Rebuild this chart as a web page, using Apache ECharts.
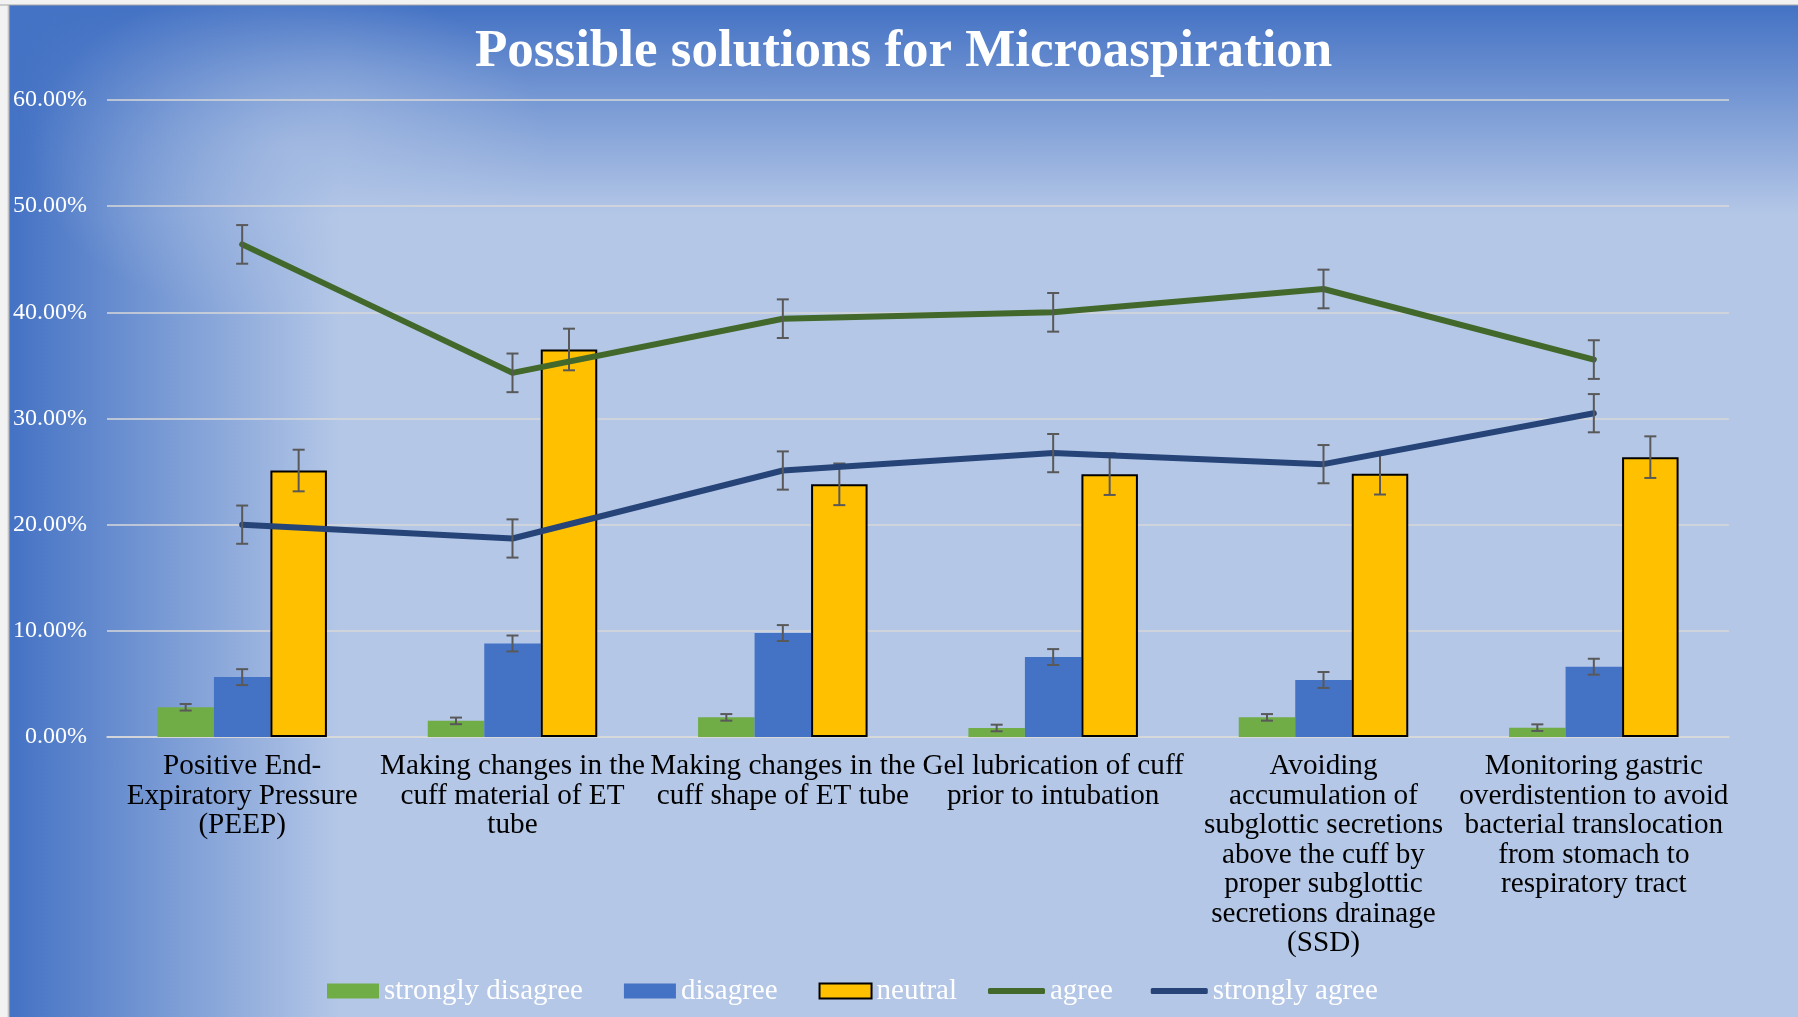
<!DOCTYPE html>
<html>
<head>
<meta charset="utf-8">
<script src="https://cdn.jsdelivr.net/npm/echarts@6/dist/echarts.min.js"></script>
<style>
html,body{margin:0;padding:0;width:1798px;height:1017px;overflow:hidden;background:#B4C7E7;}
#chart{position:absolute;left:0;top:0;width:1798px;height:1017px;
background:
 linear-gradient(to bottom, #f2f2f2 0px, #f2f2f2 4px, #a6a6a6 5px, rgba(0,0,0,0) 6px) top left/100% 6px no-repeat,
 linear-gradient(to right, #f2f2f2 0px, #f2f2f2 7px, #b4b4b4 9px, rgba(0,0,0,0) 10px) top left/10px 100% no-repeat,
 radial-gradient(ellipse 260px 170px at 290px 150px, rgba(180,199,231,0.6), rgba(180,199,231,0)),
 linear-gradient(to bottom, rgba(68,114,196,1) 6px, rgba(68,114,196,0) 215px),
 linear-gradient(to right, rgba(68,114,196,1) 10px, rgba(68,114,196,0) 340px),
 #B4C7E7;}
</style>
</head>
<body>
<div id="chart"></div>
<script>
// ---- data ----
const categories = [
  'Positive End-\nExpiratory Pressure\n(PEEP)',
  'Making changes in the\ncuff material of ET\ntube',
  'Making changes in the\ncuff shape of ET tube',
  'Gel lubrication of cuff\nprior to intubation',
  'Avoiding\naccumulation of\nsubglottic secretions\nabove the cuff by\nproper subglottic\nsecretions drainage\n(SSD)',
  'Monitoring gastric\noverdistention to avoid\nbacterial translocation\nfrom stomach to\nrespiratory tract'
];
const seriesNames = ['strongly disagree', 'disagree', 'neutral', 'agree', 'strongly agree'];
const stronglyDisagree = [0.0280, 0.0152, 0.0185, 0.0085, 0.0185, 0.0088];
const disagree         = [0.0564, 0.0881, 0.0979, 0.0753, 0.0537, 0.0662];
const neutral          = [0.2510, 0.3650, 0.2380, 0.2476, 0.2480, 0.2636];
const agree            = [0.4640, 0.3430, 0.3940, 0.4000, 0.4220, 0.3555];
const stronglyAgree    = [0.2000, 0.1870, 0.2510, 0.2674, 0.2570, 0.3050];
// error bar half-widths (standard error) per series
const errorMargins     = [0.0031, 0.0075, 0.0196, 0.0182, 0.0180];
const yTicks = { min: 0, max: 0.6, interval: 0.1 };

// ---- styling ----
const FONT = '"Liberation Serif", "Times New Roman", serif';
const BAR_FRAC = 0.209;
const colors = ['#70AD47', '#4472C4', '#FFC000', '#43682B', '#264478'];
const legendText = { color: '#FFFFFF', fontFamily: FONT, fontSize: 29, lineHeight: 30 };

function errorSeries(values, err, slot, z) {
  return {
    type: 'custom',
    z: z,
    silent: true,
    renderItem: function (params, api) {
      const idx = api.value(0);
      const lo = api.coord([idx, api.value(1)]);
      const hi = api.coord([idx, api.value(2)]);
      const band = api.size([1, 0])[0];
      const cx = lo[0] + slot * band * BAR_FRAC;
      const cap = 6;
      const style = { stroke: '#595959', lineWidth: 2, fill: null };
      return {
        type: 'group',
        children: [
          { type: 'line', shape: { x1: cx, y1: lo[1], x2: cx, y2: hi[1] }, style: style },
          { type: 'line', shape: { x1: cx - cap, y1: lo[1], x2: cx + cap, y2: lo[1] }, style: style },
          { type: 'line', shape: { x1: cx - cap, y1: hi[1], x2: cx + cap, y2: hi[1] }, style: style }
        ]
      };
    },
    encode: { x: 0, y: [1, 2] },
    data: values.map((v, i) => [i, v - err, v + err])
  };
}

const chart = echarts.init(document.getElementById('chart'), null, { renderer: 'canvas' });
const option = {
  backgroundColor: 'transparent',
  animation: false,
  title: {
    text: 'Possible solutions for Microaspiration',
    left: 470,
    top: 17,
    textStyle: { color: '#FFFFFF', fontFamily: FONT, fontWeight: 'bold', fontSize: 53, lineHeight: 60 }
  },
  legend: [
    {
      data: [
        { name: seriesNames[0], icon: 'rect' },
        { name: seriesNames[1], icon: 'rect' },
        { name: seriesNames[2], icon: 'rect' }
      ],
      left: 322, top: 971,
      itemWidth: 52, itemHeight: 15, itemGap: 41,
      textStyle: legendText
    },
    {
      data: [
        { name: seriesNames[3], icon: 'roundRect' },
        { name: seriesNames[4], icon: 'roundRect' }
      ],
      left: 983, top: 971,
      itemWidth: 57, itemHeight: 6, itemGap: 38,
      textStyle: legendText
    }
  ],
  grid: { left: 107, right: 69, top: 100, bottom: 280, containLabel: false },
  xAxis: {
    type: 'category',
    data: categories,
    axisLine: { show: true, lineStyle: { color: '#D9D9D9', width: 1.5 } },
    axisTick: { show: false },
    axisLabel: {
      color: '#000000', fontFamily: FONT, fontSize: 29.2, lineHeight: 29.5,
      margin: 15, interval: 0, align: 'center'
    }
  },
  yAxis: {
    type: 'value',
    min: yTicks.min, max: yTicks.max, interval: yTicks.interval,
    axisLine: { show: false },
    axisTick: { show: false },
    splitLine: { lineStyle: { color: '#D9D9D9', width: 1.5 } },
    axisLabel: {
      color: '#FFFFFF', fontFamily: FONT, fontSize: 24, margin: 20,
      formatter: v => (v * 100).toFixed(2) + '%'
    }
  },
  series: [
    { name: seriesNames[0], type: 'bar', data: stronglyDisagree, barWidth: (BAR_FRAC * 100) + '%', barGap: '0%', z: 2,
      itemStyle: { color: colors[0] } },
    { name: seriesNames[1], type: 'bar', data: disagree, barWidth: (BAR_FRAC * 100) + '%', barGap: '0%', z: 2,
      itemStyle: { color: colors[1] } },
    { name: seriesNames[2], type: 'bar', data: neutral, barWidth: (BAR_FRAC * 100) + '%', barGap: '0%', z: 2,
      itemStyle: { color: colors[2], borderColor: '#000000', borderWidth: 2 } },
    errorSeries(stronglyDisagree, errorMargins[0], -1, 3),
    errorSeries(disagree, errorMargins[1], 0, 3),
    errorSeries(neutral, errorMargins[2], 1, 3),
    { name: seriesNames[3], type: 'line', data: agree, z: 4, symbol: 'none', showSymbol: false,
      lineStyle: { color: colors[3], width: 6, cap: 'round', join: 'round' }, itemStyle: { color: colors[3] } },
    { name: seriesNames[4], type: 'line', data: stronglyAgree, z: 4, symbol: 'none', showSymbol: false,
      lineStyle: { color: colors[4], width: 6, cap: 'round', join: 'round' }, itemStyle: { color: colors[4] } },
    errorSeries(agree, errorMargins[3], 0, 5),
    errorSeries(stronglyAgree, errorMargins[4], 0, 5)
  ]
};
chart.setOption(option);
</script>
</body>
</html>
